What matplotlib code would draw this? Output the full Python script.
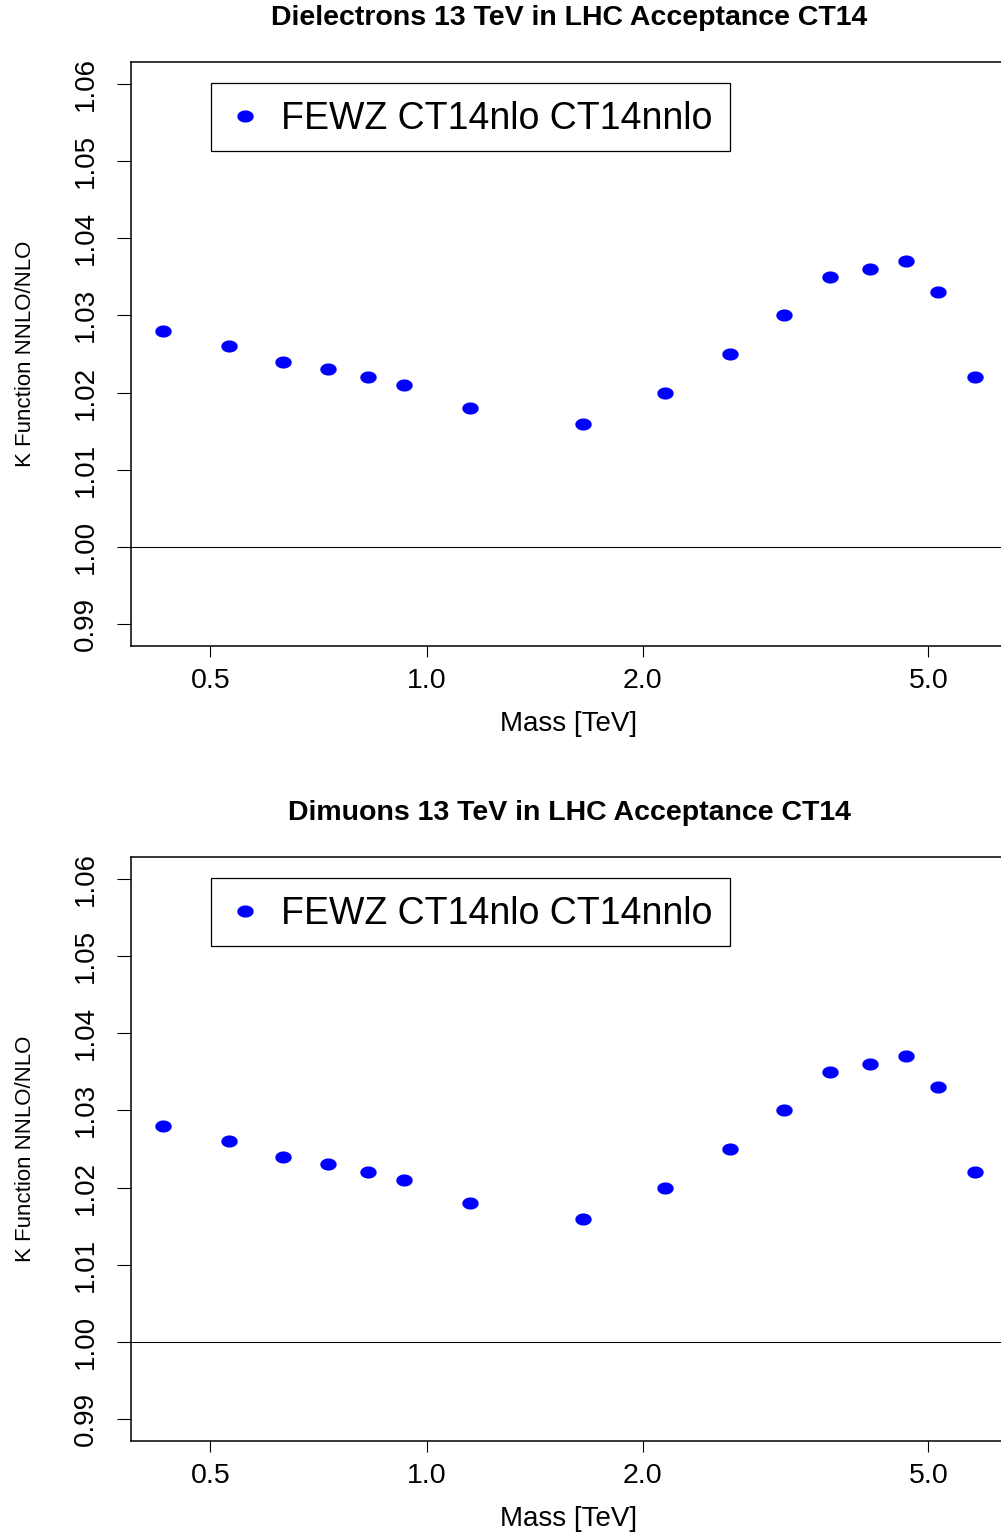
import numpy as np
import matplotlib
matplotlib.use("Agg")
import matplotlib.pyplot as plt
from matplotlib.path import Path
from matplotlib.patches import Rectangle
from matplotlib.ticker import NullLocator

# ---------------- data ----------------
mass_tev = [0.43, 0.53, 0.63, 0.73, 0.83, 0.93, 1.15, 1.65, 2.15, 2.65,
            3.15, 3.65, 4.15, 4.65, 5.15, 5.8]
k_dielectron = [1.028, 1.026, 1.024, 1.023, 1.022, 1.021, 1.018, 1.016, 1.020,
                1.025, 1.030, 1.035, 1.036, 1.037, 1.033, 1.022]
k_dimuon = [1.028, 1.026, 1.024, 1.023, 1.022, 1.021, 1.018, 1.016, 1.020,
            1.025, 1.030, 1.035, 1.036, 1.037, 1.033, 1.022]

titles = ["Dielectrons 13 TeV in LHC Acceptance CT14",
          "Dimuons 13 TeV in LHC Acceptance CT14"]
legend_label = "FEWZ CT14nlo CT14nnlo"
x_ticks = [0.5, 1.0, 2.0, 5.0]
x_tick_labels = ["0.5", "1.0", "2.0", "5.0"]
y_ticks = [0.99, 1.00, 1.01, 1.02, 1.03, 1.04, 1.05, 1.06]
y_tick_labels = ["0.99", "1.00", "1.01", "1.02", "1.03", "1.04", "1.05", "1.06"]
x_label = "Mass [TeV]"
y_label = "K Function NNLO/NLO"

# ---------------- style ----------------
plt.rcParams['font.family'] = ['Liberation Sans', 'DejaVu Sans']

W, H = 1001, 1539
fig = plt.figure(figsize=(W / 100, H / 100), dpi=100)
fig.patch.set_facecolor('white')

# elliptical marker (R output was stretched horizontally)
t = np.linspace(0, 2 * np.pi, 60)
ell = Path(np.column_stack([np.cos(t), 0.74 * np.sin(t)]), closed=True)

ax_left_px, ax_right_px = 131, 1007
panels = [(62, 646, k_dielectron), (857, 1441, k_dimuon)]

# R-style axis range (4% padding)
lx = np.log10([min(mass_tev), max(mass_tev)])
dx = (lx[1] - lx[0]) * 0.04
xlim = (10 ** (lx[0] - dx), 10 ** (lx[1] + dx))
ylim = (0.99 - 0.07 * 0.04, 1.06 + 0.07 * 0.04)

for (top_px, bot_px, kvals), title in zip(panels, titles):
    ax_h = bot_px - top_px
    ax_w = ax_right_px - ax_left_px
    ax = fig.add_axes([ax_left_px / W, (H - bot_px) / H, ax_w / W, ax_h / H])
    ax.set_xscale('log')
    ax.set_xlim(*xlim)
    ax.set_ylim(*ylim)

    ax.plot(mass_tev, kvals, linestyle='none', marker=ell, markersize=11.8,
            color='#0000ff', markeredgewidth=0, label=legend_label)
    ax.axhline(1.0, color='black', lw=0.75)

    ax.set_xticks(x_ticks)
    ax.set_xticklabels(x_tick_labels)
    ax.xaxis.set_minor_locator(NullLocator())
    ax.set_yticks(y_ticks)
    ax.set_yticklabels(y_tick_labels)
    ax.yaxis.set_minor_locator(NullLocator())

    ax.tick_params(axis='x', direction='out', length=8, width=0.8,
                   pad=8, labelsize=20.5)
    ax.tick_params(axis='y', direction='out', length=10, width=0.8,
                   pad=13, labelsize=20, labelrotation=90)
    for lab in ax.get_yticklabels():
        lab.set_va('center')

    for sp in ax.spines.values():
        sp.set_linewidth(1.1)

    ax.set_xlabel(x_label, fontsize=20)
    ax.xaxis.set_label_coords(0.5, -(724 - 646) / ax_h)
    ax.xaxis.label.set_va('center')
    ax.set_ylabel(y_label, fontsize=16)
    ax.yaxis.set_label_coords(-(131 - 26) / ax_w, 0.5)
    ax.yaxis.label.set_va('center')
    ax.yaxis.label.set_ha('center')

    ax.text(0.5, 1 + 44 / ax_h, title, transform=ax.transAxes,
            ha='center', va='center', fontsize=20.5, fontweight='bold')

    # legend box (R legend)
    bx0 = (211 - ax_left_px) / ax_w
    bx1 = (730 - ax_left_px) / ax_w
    by0 = (bot_px - (top_px + 89)) / ax_h
    by1 = (bot_px - (top_px + 21)) / ax_h
    ax.add_patch(Rectangle((bx0, by0), bx1 - bx0, by1 - by0,
                           transform=ax.transAxes, facecolor='white',
                           edgecolor='black', lw=0.9, zorder=3))
    fs_leg = 27
    fs_px = fs_leg * 100 / 72
    hl = 1.0
    leg_left_px = 245 - hl * fs_px / 2
    leg = ax.legend(loc='center left',
                    bbox_to_anchor=((leg_left_px - ax_left_px) / ax_w,
                                    (bot_px - (top_px + 57)) / ax_h),
                    frameon=False, fontsize=fs_leg, borderpad=0,
                    borderaxespad=0, handlelength=hl,
                    handletextpad=(281 - leg_left_px - hl * fs_px) / fs_px,
                    markerscale=1.0)
    leg.set_zorder(4)

fig.savefig('out.png', dpi=100, facecolor='white')
